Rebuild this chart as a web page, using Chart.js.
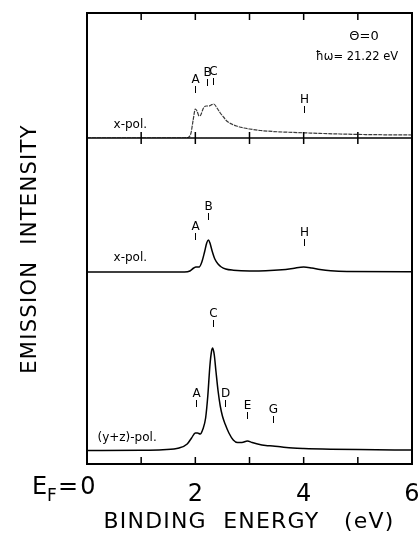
<!DOCTYPE html>
<html>
<head>
<meta charset="utf-8">
<script src="https://cdn.jsdelivr.net/npm/chart.js@4"></script>
<style>
  html, body { margin: 0; padding: 0; background: #fff; }
  #wrap { width: 418px; height: 533px; }
</style>
</head>
<body>
<div id="wrap"><canvas id="spectra"></canvas></div>
<script>
// binding energy (eV) and emission intensity (arb. units) for each spectrum
const topEnergy = [0, 1.80, 1.88, 1.92, 1.96, 2.00, 2.03, 2.07, 2.10, 2.15, 2.20, 2.25, 2.29, 2.34, 2.40, 2.46, 2.52, 2.58, 2.67, 2.76, 2.90, 3.00, 3.20, 3.43, 3.70, 4.00, 4.30, 4.67, 5.00, 5.50, 6.00];
const topIntensity = [0, 0, 1, 5, 18, 29, 27, 22, 23, 30, 32, 32, 33, 34, 30, 25, 21, 17, 14, 12, 10, 9, 7.5, 6.5, 5.8, 5.2, 4.6, 4, 3.6, 3.2, 3];

const midEnergy = [0, 1.80, 1.90, 1.97, 2.01, 2.07, 2.12, 2.17, 2.21, 2.24, 2.27, 2.31, 2.36, 2.42, 2.48, 2.56, 2.70, 3.00, 3.30, 3.60, 3.80, 4.00, 4.15, 4.30, 4.50, 4.80, 6.00];
const midIntensity = [0, 0, 1, 4, 5, 5, 10, 20, 29, 32, 29, 21, 13, 8, 5, 3, 1.8, 1, 1.2, 2.2, 3.5, 5, 4, 2.5, 1.2, 0.5, 0.3];

const botEnergy = [0, 1.00, 1.40, 1.70, 1.85, 1.93, 2.00, 2.04, 2.09, 2.14, 2.19, 2.23, 2.27, 2.30, 2.32, 2.35, 2.38, 2.42, 2.46, 2.50, 2.55, 2.62, 2.70, 2.78, 2.86, 2.96, 3.05, 3.15, 3.30, 3.43, 3.60, 3.80, 4.00, 4.50, 5.00, 6.00];
const botIntensity = [0.5, 0.7, 1.3, 3, 7, 13, 18, 18, 17, 22, 33, 55, 86, 100, 103, 96, 80, 60, 45, 35, 27, 18, 11, 8.5, 8.5, 10, 8.5, 7, 5.5, 5, 4, 3, 2.5, 1.8, 1.4, 1];

// peak markers: letter, energy, intensity level of the marker
const topPeaks = ['A', 'B', 'C', 'H'];
const topPeakEnergy = [2.0, 2.21, 2.32, 4.0];
const topPeakLevel = [45, 52, 53, 25];

const midPeaks = ['A', 'B', 'H'];
const midPeakEnergy = [2.0, 2.24, 4.0];
const midPeakLevel = [32, 52, 26];

const botPeaks = ['A', 'C', 'D', 'E', 'G'];
const botPeakEnergy = [2.01, 2.32, 2.55, 2.96, 3.43];
const botPeakLevel = [44, 124, 44, 32, 28];

const xTicks = [0, 1, 2, 3, 4, 5, 6];
const xTickLabels = ['', '', '2', '', '4', '', '6'];

const FONT = "'DejaVu Sans', sans-serif";

function points(xs, ys) {
    return xs.map((x, i) => ({ x, y: ys[i] }));
}

const panels = [
    { axis: 'yTop', peaks: topPeaks, energy: topPeakEnergy, level: topPeakLevel, name: 'x-pol.', nameE: 0.8, nameLevel: 14 },
    { axis: 'yMid', peaks: midPeaks, energy: midPeakEnergy, level: midPeakLevel, name: 'x-pol.', nameE: 0.8, nameLevel: 15 },
    { axis: 'yBot', peaks: botPeaks, energy: botPeakEnergy, level: botPeakLevel, name: '(y+z)-pol.', nameE: 0.74, nameLevel: 14 },
];

const decorations = {
    id: 'decorations',
    afterDraw(chart) {
        const { ctx, chartArea: a, scales } = chart;
        const xs = scales.x;
        ctx.save();
        ctx.strokeStyle = '#000';
        ctx.fillStyle = '#000';

        // frame
        ctx.lineWidth = 2;
        ctx.strokeRect(a.left, a.top, a.right - a.left, a.bottom - a.top);

        // divider under the top spectrum
        const divY = scales.yTop.getPixelForValue(0);
        ctx.lineWidth = 1.5;
        ctx.beginPath();
        ctx.moveTo(a.left, divY);
        ctx.lineTo(a.right, divY);
        ctx.stroke();

        // inward ticks
        ctx.lineWidth = 1.5;
        xTicks.slice(1, -1).forEach((v) => {
            const px = xs.getPixelForValue(v);
            ctx.beginPath();
            ctx.moveTo(px, a.top);
            ctx.lineTo(px, a.top + 7);
            ctx.moveTo(px, divY - 6);
            ctx.lineTo(px, divY + 6);
            ctx.moveTo(px, a.bottom);
            ctx.lineTo(px, a.bottom - 7);
            ctx.stroke();
        });

        // peak markers and spectrum names
        ctx.lineWidth = 1;
        panels.forEach((p) => {
            const ys = scales[p.axis];
            ctx.font = `12px ${FONT}`;
            ctx.textAlign = 'center';
            ctx.textBaseline = 'alphabetic';
            p.peaks.forEach((letter, i) => {
                const px = Math.round(xs.getPixelForValue(p.energy[i])) + 0.5;
                const py = ys.getPixelForValue(p.level[i]);
                ctx.beginPath();
                ctx.moveTo(px, py);
                ctx.lineTo(px, py - 7);
                ctx.stroke();
                ctx.fillText(letter, px, py - 10);
            });
            ctx.font = `12px ${FONT}`;
            ctx.fillText(p.name, xs.getPixelForValue(p.nameE), ys.getPixelForValue(p.nameLevel) + 4);
        });

        // experiment conditions
        ctx.textAlign = 'center';
        ctx.font = `13px ${FONT}`;
        ctx.fillText('\u0398=0', 364, 40);
        ctx.font = `11.5px ${FONT}`;
        ctx.fillText('\u0127\u03c9= 21.22 eV', 357, 60);

        // E_F = 0 tick label
        const x0 = xs.getPixelForValue(0);
        ctx.textBaseline = 'alphabetic';
        ctx.font = `24px ${FONT}`;
        ctx.textAlign = 'center';
        ctx.fillText('0', x0 + 1, 494);
        ctx.textAlign = 'right';
        ctx.fillText('=', x0 - 9, 494);
        ctx.textAlign = 'left';
        ctx.fillText('E', 32, 494);
        ctx.font = `17px ${FONT}`;
        ctx.fillText('F', 47, 501);

        // axis titles
        ctx.font = `22px ${FONT}`;
        ctx.letterSpacing = '1.2px';
        ctx.textAlign = 'center';
        ctx.fillText('BINDING  ENERGY   (eV)', 249, 528);

        ctx.font = `21px ${FONT}`;
        ctx.letterSpacing = '1.3px';
        ctx.translate(36, 249);
        ctx.rotate(-Math.PI / 2);
        ctx.textBaseline = 'alphabetic';
        ctx.fillText('EMISSION  INTENSITY', 0, 0);
        ctx.restore();
    },
};

const hiddenY = (min, max, weight) => ({
    type: 'linear',
    position: 'left',
    stack: 'panels',
    stackWeight: weight,
    min,
    max,
    afterFit(scale) {
        scale.width = 0;
    },
    grid: { display: false },
    border: { display: false },
    ticks: { display: false },
});

new Chart(document.getElementById('spectra'), {
    type: 'line',
    data: {
        datasets: [
            {
                label: 'x-pol. (top)',
                data: points(topEnergy, topIntensity),
                yAxisID: 'yTop',
                borderColor: '#3a3a3a',
                borderWidth: 1.2,
                borderDash: [4, 1],
                pointRadius: 0,
                cubicInterpolationMode: 'monotone',
            },
            {
                label: 'x-pol.',
                data: points(midEnergy, midIntensity),
                yAxisID: 'yMid',
                borderColor: '#000',
                borderWidth: 1.5,
                pointRadius: 0,
                cubicInterpolationMode: 'monotone',
            },
            {
                label: '(y+z)-pol.',
                data: points(botEnergy, botIntensity),
                yAxisID: 'yBot',
                borderColor: '#000',
                borderWidth: 1.5,
                pointRadius: 0,
                cubicInterpolationMode: 'monotone',
            },
        ],
    },
    options: {
        responsive: true,
        maintainAspectRatio: false,
        animation: false,
        events: [],
        layout: {
            padding: { left: 87, top: 13, right: 6, bottom: 0 },
        },
        plugins: {
            legend: { display: false },
            tooltip: { enabled: false },
        },
        scales: {
            x: {
                type: 'linear',
                min: 0,
                max: 6,
                afterFit(scale) {
                    scale.height = 69;
                    scale.paddingLeft = 0;
                    scale.paddingRight = 0;
                },
                afterBuildTicks(scale) {
                    scale.ticks = xTicks.map((value) => ({ value }));
                },
                grid: { display: false },
                border: { display: false },
                ticks: {
                    maxRotation: 0,
                    autoSkip: false,
                    padding: 8,
                    color: '#000',
                    font: { family: FONT, size: 24 },
                    callback(value) {
                        return xTickLabels[xTicks.indexOf(value)];
                    },
                },
            },
            // stacked panels: the last one listed is placed on top
            yBot: hiddenY(-13, 161, 174),
            yMid: hiddenY(-18, 134, 152),
            yTop: hiddenY(0, 125, 125),
        },
    },
    plugins: [decorations],
});
</script>
</body>
</html>
